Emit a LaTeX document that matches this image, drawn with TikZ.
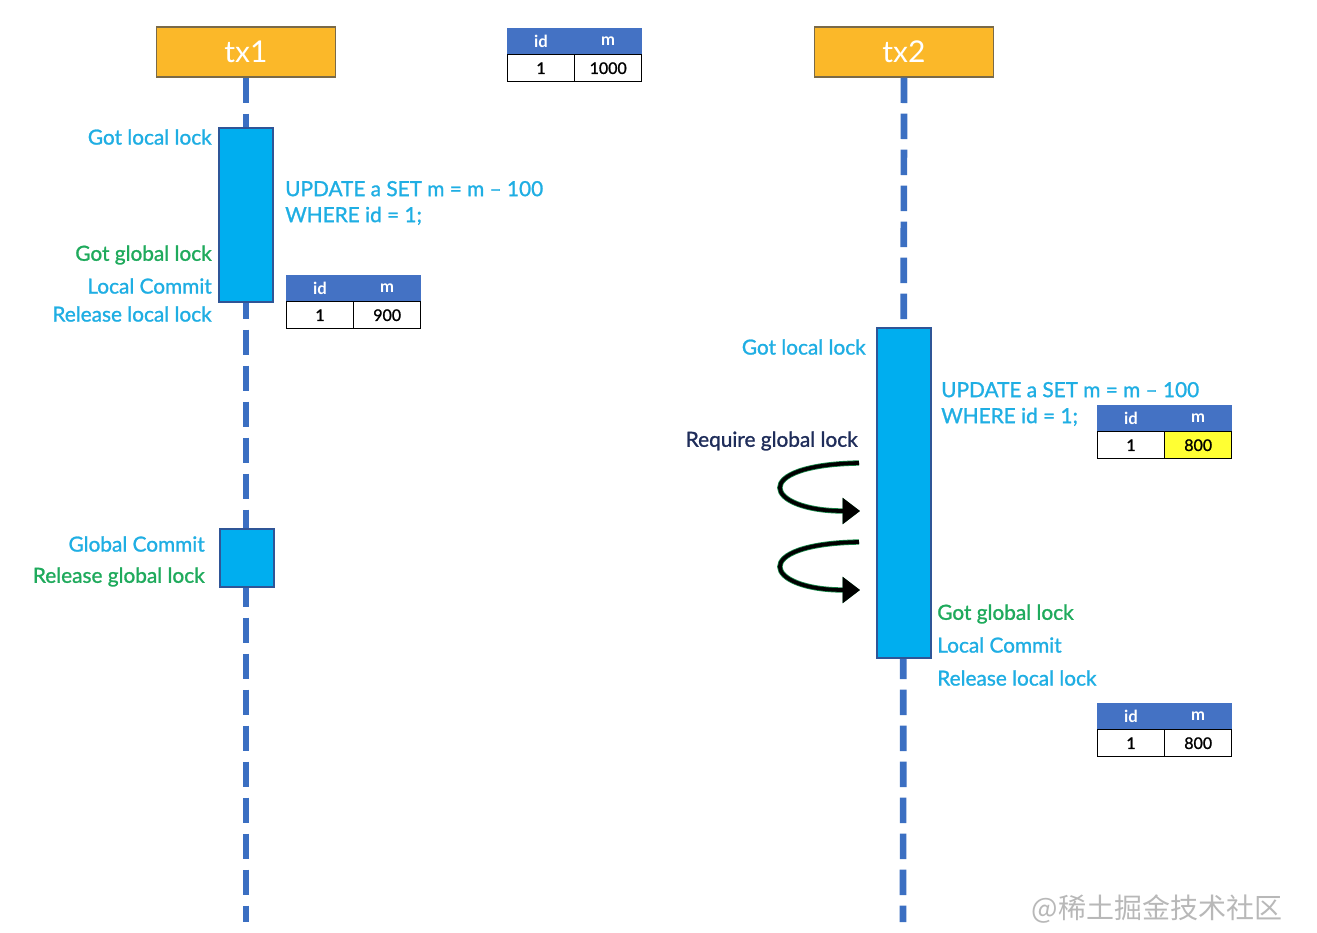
\documentclass[tikz,border=0pt]{standalone}
\usepackage{fontspec}
\setmainfont{Lato}
\newfontfamily\labfont[FakeBold=1.2, Ligatures=TeX]{Lato}
\newfontfamily\cjkfont{Noto Sans CJK SC}
\usetikzlibrary{arrows.meta, positioning}
\definecolor{txorange}{HTML}{FBB829}
\definecolor{txedge}{HTML}{7A6A48}
\definecolor{lifeblue}{HTML}{3B6FC2}
\definecolor{actblue}{HTML}{00AEEF}
\definecolor{actedge}{HTML}{2F5597}
\definecolor{headblue}{HTML}{4472C4}
\definecolor{labcyan}{HTML}{1FAEE3}
\definecolor{labgreen}{HTML}{1FAA5C}
\definecolor{labnavy}{HTML}{1F2D5A}
\definecolor{cellyellow}{HTML}{FFFF33}
\tikzstyle{txbox} = [rectangle, minimum width=134pt, minimum height=37.5pt, draw=txedge, line width=1pt, fill=txorange, text=white, font=\fontsize{22.5}{26}\selectfont]
\tikzstyle{lifeline} = [line width=5pt, dash pattern=on 19pt off 8pt, draw=lifeblue]
\tikzstyle{activation} = [rectangle, draw=actedge, line width=0.8pt, fill=actblue, minimum width=40.5pt]
\tikzstyle{cyanlabel} = [text=labcyan, inner sep=0pt, font=\labfont\fontsize{15.6}{19.5}\selectfont]
\tikzstyle{greenlabel} = [text=labgreen, inner sep=0pt, font=\labfont\fontsize{15.6}{19.5}\selectfont]
\tikzstyle{hcell} = [rectangle, draw=headblue, fill=headblue, text=white, minimum width=50pt, minimum height=19.5pt, inner sep=0pt, font=\fontsize{12.5}{14}\selectfont\bfseries]
\tikzstyle{vcell} = [rectangle, draw=black, line width=0.9pt, fill=white, minimum width=50pt, minimum height=20pt, inner sep=0pt, font=\labfont\fontsize{12}{14}\selectfont]
\tikzstyle{waitarrow} = [line width=2.8pt, draw=black, -{Triangle[length=13pt, width=19pt]}, preaction={draw=labgreen!80!black, line width=4pt}]

\begin{document}
\begin{tikzpicture}[x=0.75pt, y=-0.75pt]
\useasboundingbox (0,0) rectangle (1317,932);

\node (tx1) [txbox] at (246,52) {tx1};
\node (tx2) [txbox] at (904,52) {tx2};
\coordinate (end1) at (246,922);
\coordinate (end2) at (903,922);

\draw [lifeline] (tx1.south) -- (end1);
\draw [lifeline] (tx2.south) -- (end2);

% tx1
\node (act1) [activation, minimum height=130.5pt] at (246,215) {};
\node (act2) [activation, minimum height=43.5pt] at (247,558) {};
\node (gll1) [cyanlabel, anchor=east] at (212,137) {Got local lock};
\node (upd1) [cyanlabel, anchor=west, align=left] at (285,203) {UPDATE a SET m = m – 100\\WHERE id = 1;};
\node (ggl1) [greenlabel, anchor=east] at (212,255) {Got global lock};
\node (lc1) [cyanlabel, anchor=east] at (212,286) {Local Commit};
\node (rll1) [cyanlabel, anchor=east] at (212,314) {Release local lock};
\node (gc1) [cyanlabel, anchor=east] at (205,544) {Global Commit};
\node (rgl1) [greenlabel, anchor=east] at (205,577) {Release global lock};

% tables
\node (idA) [hcell] at (541,41) {id};
\node (mA) [hcell, right=0pt of idA] {m};
\node (vidA) [vcell, below=0pt of idA] {1};
\node (vmA) [vcell, below=0pt of mA] {1000};

\node (idB) [hcell] at (320,288) {id};
\node (mB) [hcell, right=0pt of idB] {m};
\node (vidB) [vcell, below=0pt of idB] {1};
\node (vmB) [vcell, below=0pt of mB] {900};

\node (idC) [hcell] at (1131,418) {id};
\node (mC) [hcell, right=0pt of idC] {m};
\node (vidC) [vcell, below=0pt of idC] {1};
\node (vmC) [vcell, fill=cellyellow, below=0pt of mC] {800};

\node (idD) [hcell] at (1131,716) {id};
\node (mD) [hcell, right=0pt of idD] {m};
\node (vidD) [vcell, below=0pt of idD] {1};
\node (vmD) [vcell, below=0pt of mD] {800};

% tx2
\node (act3) [activation, minimum height=247.5pt] at (904,493) {};
\node (gll2) [cyanlabel, anchor=east] at (866,347) {Got local lock};
\node (upd2) [cyanlabel, anchor=west, align=left] at (941,404) {UPDATE a SET m = m – 100\\WHERE id = 1;};
\node (rgq2) [text=labnavy, inner sep=0pt, font=\labfont\fontsize{15.6}{19.5}\selectfont, anchor=east] at (858,441) {Require global lock};
\node (ggl2) [greenlabel, anchor=west] at (937,614) {Got global lock};
\node (lc2) [cyanlabel, anchor=west] at (937,645) {Local Commit};
\node (rll2) [cyanlabel, anchor=west] at (937,678) {Release local lock};

\coordinate (w1s) at (859,463);
\coordinate (w1e) at (860,511);
\coordinate (w2s) at (859,542);
\coordinate (w2e) at (860,590);
\draw [waitarrow] (w1s) .. controls (748,465) and (764,511) .. (w1e);
\draw [waitarrow] (w2s) .. controls (748,544) and (764,590) .. (w2e);

\node (mark) [text=black!28, font=\cjkfont\fontsize{21}{25}\selectfont] at (1157,909) {@稀土掘金技术社区};

\end{tikzpicture}
\end{document}
